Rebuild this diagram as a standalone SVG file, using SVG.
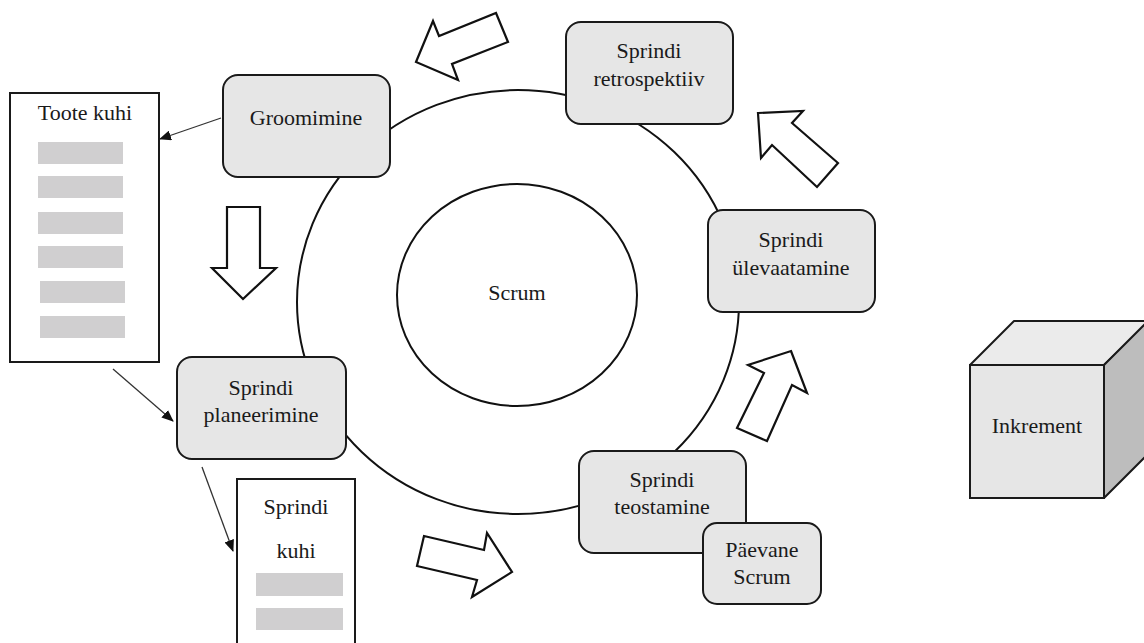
<svg xmlns="http://www.w3.org/2000/svg" width="1144" height="643" viewBox="0 0 1144 643">
  <style>
    .txt { font-family: "Liberation Serif", "Times New Roman", serif; font-size: 22px; fill: #1a1a1a; text-anchor: middle; }
    .step { fill: #e6e6e6; stroke: #1a1a1a; stroke-width: 2; }
    .doc { fill: #ffffff; stroke: #1a1a1a; stroke-width: 2; }
    .bar { fill: #d0cfd0; }
    .flow { fill: #ffffff; stroke: #111111; stroke-width: 2.2; stroke-linejoin: miter; }
    .ring { fill: none; stroke: #111111; stroke-width: 2; }
    .link { fill: none; stroke: #333333; stroke-width: 1.3; }
  </style>
  <defs>
    <marker id="head" viewBox="0 0 12 10" refX="11" refY="5" markerWidth="12" markerHeight="10" markerUnits="userSpaceOnUse" orient="auto">
      <path d="M0,0 L12,5 L0,10 Z" fill="#111111"/>
    </marker>
  </defs>
  <rect width="1144" height="643" fill="#ffffff"/>

  <!-- outer cycle and core -->
  <g id="cycle">
    <ellipse class="ring" cx="518" cy="302" rx="221" ry="212"/>
  </g>
  <g id="scrum">
    <ellipse class="ring" cx="517" cy="295" rx="120" ry="111"/>
    <text class="txt" x="517" y="300">Scrum</text>
  </g>

  <!-- block arrows showing the flow direction -->
  <g id="flow-arrows">
    <polygon class="flow" points="416,62 433,21 439,36 496,13 508,42 452,64 458,80"/>
    <polygon class="flow" points="227,207 260,207 260,268 276,268 243,299 212,268 227,268"/>
    <polygon class="flow" points="424,536 484,550 487,533 512,572 472,597 477,580 417,566"/>
    <polygon class="flow" points="791,351 807,393 792,385 767,441 737,428 764,373 748,365"/>
    <polygon class="flow" points="758,113 803,111 792,123 838,163 817,187 772,145 761,158"/>
  </g>

  <!-- connectors between steps and artefacts -->
  <g id="connectors">
    <line class="link" x1="221" y1="118" x2="160" y2="139" marker-end="url(#head)"/>
    <line class="link" x1="113" y1="369" x2="173" y2="421" marker-end="url(#head)"/>
    <line class="link" x1="202" y1="467" x2="233" y2="551" marker-end="url(#head)"/>
  </g>

  <g id="toote-kuhi">
    <rect class="doc" x="10" y="93" width="149" height="269"/>
    <text class="txt" x="85" y="120">Toote kuhi</text>
    <rect class="bar" x="38" y="142" width="85" height="22"/>
    <rect class="bar" x="38" y="176" width="85" height="22"/>
    <rect class="bar" x="38" y="212" width="85" height="22"/>
    <rect class="bar" x="38" y="246" width="85" height="22"/>
    <rect class="bar" x="40" y="281" width="85" height="22"/>
    <rect class="bar" x="40" y="316" width="85" height="22"/>
  </g>

  <g id="groomimine">
    <rect class="step" x="223" y="75" width="167" height="102" rx="15"/>
    <text class="txt" x="306" y="125">Groomimine</text>
  </g>

  <g id="sprindi-planeerimine">
    <rect class="step" x="177" y="357" width="169" height="102" rx="15"/>
    <text class="txt" x="261" y="395">Sprindi</text>
    <text class="txt" x="261" y="422">planeerimine</text>
  </g>

  <g id="sprindi-kuhi">
    <rect class="doc" x="237" y="479" width="118" height="175"/>
    <text class="txt" x="296" y="514">Sprindi</text>
    <text class="txt" x="296" y="558">kuhi</text>
    <rect class="bar" x="256" y="573" width="87" height="23"/>
    <rect class="bar" x="256" y="608" width="87" height="22"/>
  </g>

  <g id="sprindi-teostamine">
    <rect class="step" x="579" y="451" width="167" height="102" rx="15"/>
    <text class="txt" x="662" y="487">Sprindi</text>
    <text class="txt" x="662" y="514">teostamine</text>
  </g>

  <g id="paevane-scrum">
    <rect class="step" x="703" y="523" width="118" height="81" rx="14"/>
    <text class="txt" x="762" y="557">Päevane</text>
    <text class="txt" x="762" y="584">Scrum</text>
  </g>

  <g id="sprindi-ulevaatamine">
    <rect class="step" x="708" y="210" width="167" height="102" rx="15"/>
    <text class="txt" x="791" y="247">Sprindi</text>
    <text class="txt" x="791" y="275">ülevaatamine</text>
  </g>

  <g id="sprindi-retrospektiiv">
    <rect class="step" x="566" y="22" width="167" height="102" rx="15"/>
    <text class="txt" x="649" y="58">Sprindi</text>
    <text class="txt" x="649" y="86">retrospektiiv</text>
  </g>

  <g id="inkrement">
    <polygon points="970,365 1014,321 1150,321 1104,365" fill="#ebebeb" stroke="#1a1a1a" stroke-width="2" stroke-linejoin="round"/>
    <polygon points="1104,365 1150,319 1150,452 1104,498" fill="#bdbdbd" stroke="#1a1a1a" stroke-width="2" stroke-linejoin="round"/>
    <rect x="970" y="365" width="134" height="133" fill="#e6e6e6" stroke="#1a1a1a" stroke-width="2"/>
    <text class="txt" x="1037" y="433">Inkrement</text>
  </g>
</svg>
